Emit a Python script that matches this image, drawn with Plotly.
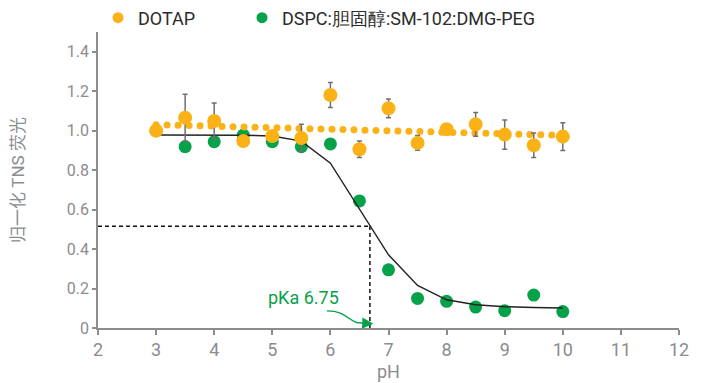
import numpy as np
import plotly.graph_objects as go

# ---- data ----
ph = [3, 3.5, 4, 4.5, 5, 5.5, 6, 6.5, 7, 7.5, 8, 8.5, 9, 9.5, 10]
dotap = [1.0, 1.066, 1.049, 0.948, 0.973, 0.963, 1.181, 0.906, 1.113, 0.938, 1.007, 1.032, 0.98, 0.926, 0.97]
dotap_err = [0.01, 0.118, 0.091, 0.01, 0.02, 0.069, 0.063, 0.042, 0.047, 0.037, 0.015, 0.06, 0.074, 0.062, 0.07]
dspc = [1.0, 0.919, 0.944, 0.978, 0.944, 0.919, 0.933, 0.644, 0.295, 0.15, 0.135, 0.106, 0.088, 0.167, 0.083]
dspc_fit = [0.978, 0.978, 0.978, 0.977, 0.973, 0.947, 0.835, 0.60, 0.371, 0.216, 0.143, 0.118, 0.108, 0.104, 0.101]
pka_label = "pKa 6.75"
pka_x = 6.68
pka_y = 0.515
x_ticks = list(range(2, 13))
y_ticks = [0, 0.2, 0.4, 0.6, 0.8, 1.0, 1.2, 1.4]
y_ticktext = ["0", "0.2", "0.4", "0.6", "0.8", "1.0", "1.2", "1.4"]
name_dotap = "DOTAP"
name_dspc = "DSPC:胆固醇:SM-102:DMG-PEG"

ORANGE = "#FBB217"
GREEN = "#06A24A"
GRAY = "#8A8C8F"
FONT = "Roboto"

# page body has an 8px margin, so the figure is sized to fit inside the window
W, H = 697, 375

# linear trend of DOTAP
slope, intercept = np.polyfit(ph, dotap, 1)
trend_x = np.linspace(ph[0], ph[-1], 38)
trend_y = slope * trend_x + intercept

fig = go.Figure()

fig.add_trace(go.Scatter(x=ph, y=dspc, mode="markers", name=name_dspc,
                         marker=dict(color=GREEN, size=13), showlegend=False))
fig.add_trace(go.Scatter(x=ph, y=dspc_fit, mode="lines", line=dict(color="#222222", width=1.4),
                         showlegend=False, hoverinfo="skip"))
fig.add_trace(go.Scatter(x=trend_x, y=trend_y, mode="markers", marker=dict(color=ORANGE, size=7),
                         showlegend=False, hoverinfo="skip"))
fig.add_trace(go.Scatter(x=ph, y=dotap, mode="markers", name=name_dotap,
                         marker=dict(color=ORANGE, size=14), showlegend=False,
                         error_y=dict(type="data", array=dotap_err, visible=True,
                                      color="#6E7073", thickness=1.5, width=2.5)))
# legend entries
fig.add_trace(go.Scatter(x=[None], y=[None], mode="markers", name=name_dotap,
                         marker=dict(color=ORANGE, size=11), legend="legend"))
fig.add_trace(go.Scatter(x=[None], y=[None], mode="markers", name=name_dspc,
                         marker=dict(color=GREEN, size=11), legend="legend2"))

# pKa guide lines
fig.add_shape(type="line", x0=2, x1=pka_x, y0=pka_y, y1=pka_y,
              line=dict(color="#111111", width=1.5, dash="4px,3px"))
fig.add_shape(type="line", x0=pka_x, x1=pka_x, y0=0, y1=pka_y,
              line=dict(color="#111111", width=1.5, dash="4px,3px"))
# curved arrow
fig.add_shape(type="path", path="M 5.94,0.087 C 6.25,0.088 6.3,0.04 6.45,0.028 L 6.6,0.024",
              line=dict(color=GREEN, width=1.4))
fig.add_annotation(x=6.74, y=0.022, ax=6.58, ay=0.024, axref="x", ayref="y",
                   text="", showarrow=True, arrowhead=2, arrowsize=1.6, arrowwidth=1.4,
                   arrowcolor=GREEN, standoff=0)
fig.add_annotation(x=5.54, y=0.155, text=pka_label, showarrow=False,
                   yanchor="middle", xanchor="center",
                   font=dict(family=FONT, size=18, color=GREEN))

leg_common = dict(orientation="h", xref="container", yref="container", xanchor="left",
                  yanchor="middle", y=1 - 10 / H, bgcolor="rgba(0,0,0,0)", itemsizing="trace",
                  font=dict(family=FONT, size=18, color="#2B2B2B"))

fig.update_layout(
    width=W, height=H,
    margin=dict(l=90, r=26, t=24, b=55, autoexpand=False),
    paper_bgcolor="white", plot_bgcolor="white",
    font=dict(family=FONT, size=15, color=GRAY),
    showlegend=True,
    legend=dict(x=90 / W, **leg_common),
    legend2=dict(x=234 / W, **leg_common),
    xaxis=dict(range=[2, 12], tickvals=x_ticks, showgrid=False, zeroline=False,
               showline=True, linecolor=GRAY, linewidth=1.5, ticks="outside",
               ticklen=5, tickcolor=GRAY, tickwidth=1.5, automargin=False,
               title=dict(text="pH", font=dict(family=FONT, size=18, color=GRAY), standoff=6),
               tickfont=dict(family=FONT, size=18, color=GRAY)),
    yaxis=dict(range=[0, 1.5], tickvals=y_ticks, ticktext=y_ticktext, showgrid=False,
               zeroline=False, showline=True, linecolor=GRAY, linewidth=1.5,
               ticks="outside", ticklen=4, tickcolor=GRAY, tickwidth=1.5, automargin=False,
               title=dict(text="归一化 TNS 荧光", font=dict(family=FONT + ", Noto Sans CJK SC", size=17, color=GRAY), standoff=44),
               tickfont=dict(family=FONT, size=16, color=GRAY)),
)

fig.write_html("out.html")
